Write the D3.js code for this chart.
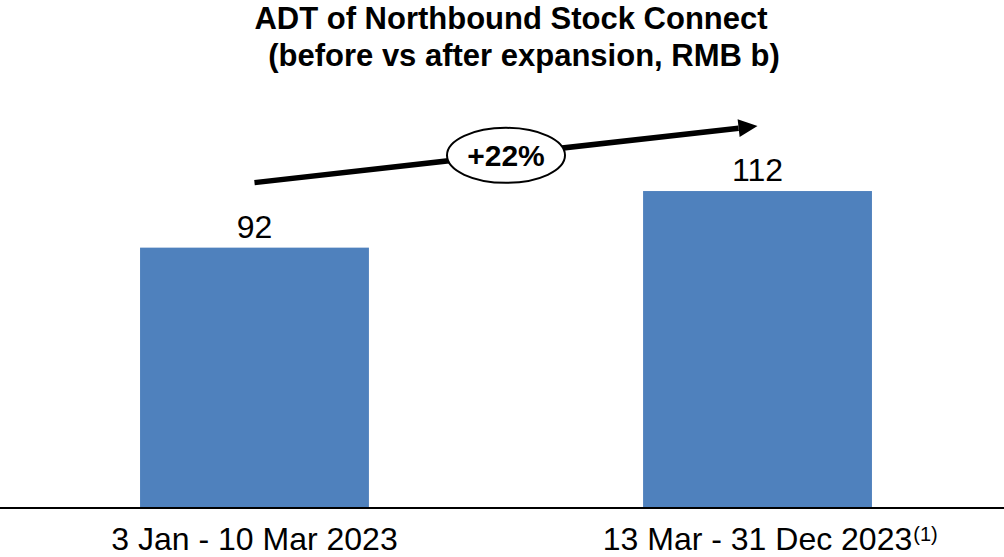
<!DOCTYPE html>
<html>
<head>
<meta charset="utf-8">
<script src="https://cdn.jsdelivr.net/npm/d3@7/dist/d3.min.js"></script>
<style>
  html, body { margin: 0; padding: 0; background: #fff; }
  svg { display: block; font-family: "Liberation Sans", Arial, sans-serif; }
</style>
</head>
<body>
<script>
var width = 1004;
var height = 557;

// chart data
var categories = ["3 Jan - 10 Mar 2023", "13 Mar - 31 Dec 2023"];
var values = [92, 112];
var footnotes = ["", "(1)"];
var titleLines = ["ADT of Northbound Stock Connect", "(before vs after expansion, RMB b)"];
var growthLabel = "+22%";

var baseY = 508;

var svg = d3.select("body").append("svg")
  .attr("width", width)
  .attr("height", height);

var x = d3.scaleBand()
  .domain(categories)
  .range([8, 1004])
  .paddingInner(0.545)
  .paddingOuter(0.2625);

var y = d3.scaleLinear()
  .domain([0, 140])
  .range([baseY, baseY - 140 * 2.83]);

// title
svg.append("text")
  .attr("x", 511).attr("y", 29)
  .attr("text-anchor", "middle")
  .style("font-size", "31px").style("font-weight", "bold")
  .text(titleLines[0]);
svg.append("text")
  .attr("x", 524).attr("y", 66)
  .attr("text-anchor", "middle")
  .style("font-size", "31px").style("font-weight", "bold")
  .text(titleLines[1]);

// bars
svg.selectAll("rect.bar")
  .data(values)
  .enter()
  .append("rect")
  .attr("class", "bar")
  .attr("x", function(d, i) { return x(categories[i]); })
  .attr("width", x.bandwidth())
  .attr("y", function(d) { return y(d); })
  .attr("height", function(d) { return y(0) - y(d); })
  .style("fill", "#4f81bd");

// value labels
svg.selectAll("text.val")
  .data(values)
  .enter()
  .append("text")
  .attr("class", "val")
  .attr("x", function(d, i) { return x(categories[i]) + x.bandwidth() / 2; })
  .attr("y", function(d) { return y(d) - 10; })
  .attr("text-anchor", "middle")
  .style("font-size", "32px")
  .text(function(d) { return d; });

// baseline axis
svg.append("line")
  .attr("x1", 0).attr("x2", width)
  .attr("y1", y(0)).attr("y2", y(0))
  .attr("stroke", "#000")
  .attr("stroke-width", 2);

// category labels (+ footnote marks)
categories.forEach(function(c, i) {
  var cx = x(c) + x.bandwidth() / 2;
  var t = svg.append("text")
    .attr("x", cx).attr("y", 550)
    .attr("text-anchor", "middle")
    .style("font-size", "32px")
    .text(c);
  if (footnotes[i]) {
    var len = t.node().getComputedTextLength();
    svg.append("text")
      .attr("x", cx + len / 2 + 1).attr("y", 541)
      .style("font-size", "20px")
      .text(footnotes[i]);
  }
});

// growth arrow between the bars
var x1 = x(categories[0]) + x.bandwidth() / 2;
var x2 = x(categories[1]) + x.bandwidth() / 2;
var ya = y(values[0]) - 65;
var yb = y(values[1]) - 65;
var ang = Math.atan2(yb - ya, x2 - x1);
var headLen = 19, headW = 9;
var bx = x2 - headLen * Math.cos(ang), by = yb - headLen * Math.sin(ang);

svg.append("line")
  .attr("x1", x1).attr("y1", ya)
  .attr("x2", bx).attr("y2", by)
  .attr("stroke", "#000")
  .attr("stroke-width", 5.5);

svg.append("path")
  .attr("d", "M" + x2 + "," + yb +
    "L" + (bx + headW * Math.sin(ang)) + "," + (by - headW * Math.cos(ang)) +
    "L" + (bx - headW * Math.sin(ang)) + "," + (by + headW * Math.cos(ang)) + "Z")
  .style("fill", "#000");

var mx = (x1 + x2) / 2, my = (ya + yb) / 2;
svg.append("ellipse")
  .attr("cx", mx).attr("cy", my + 1)
  .attr("rx", 59).attr("ry", 27.5)
  .style("fill", "#fff")
  .attr("stroke", "#000")
  .attr("stroke-width", 2);

svg.append("text")
  .attr("x", mx).attr("y", my + 12)
  .attr("text-anchor", "middle")
  .style("font-size", "30px").style("font-weight", "bold")
  .text(growthLabel);
</script>
</body>
</html>
